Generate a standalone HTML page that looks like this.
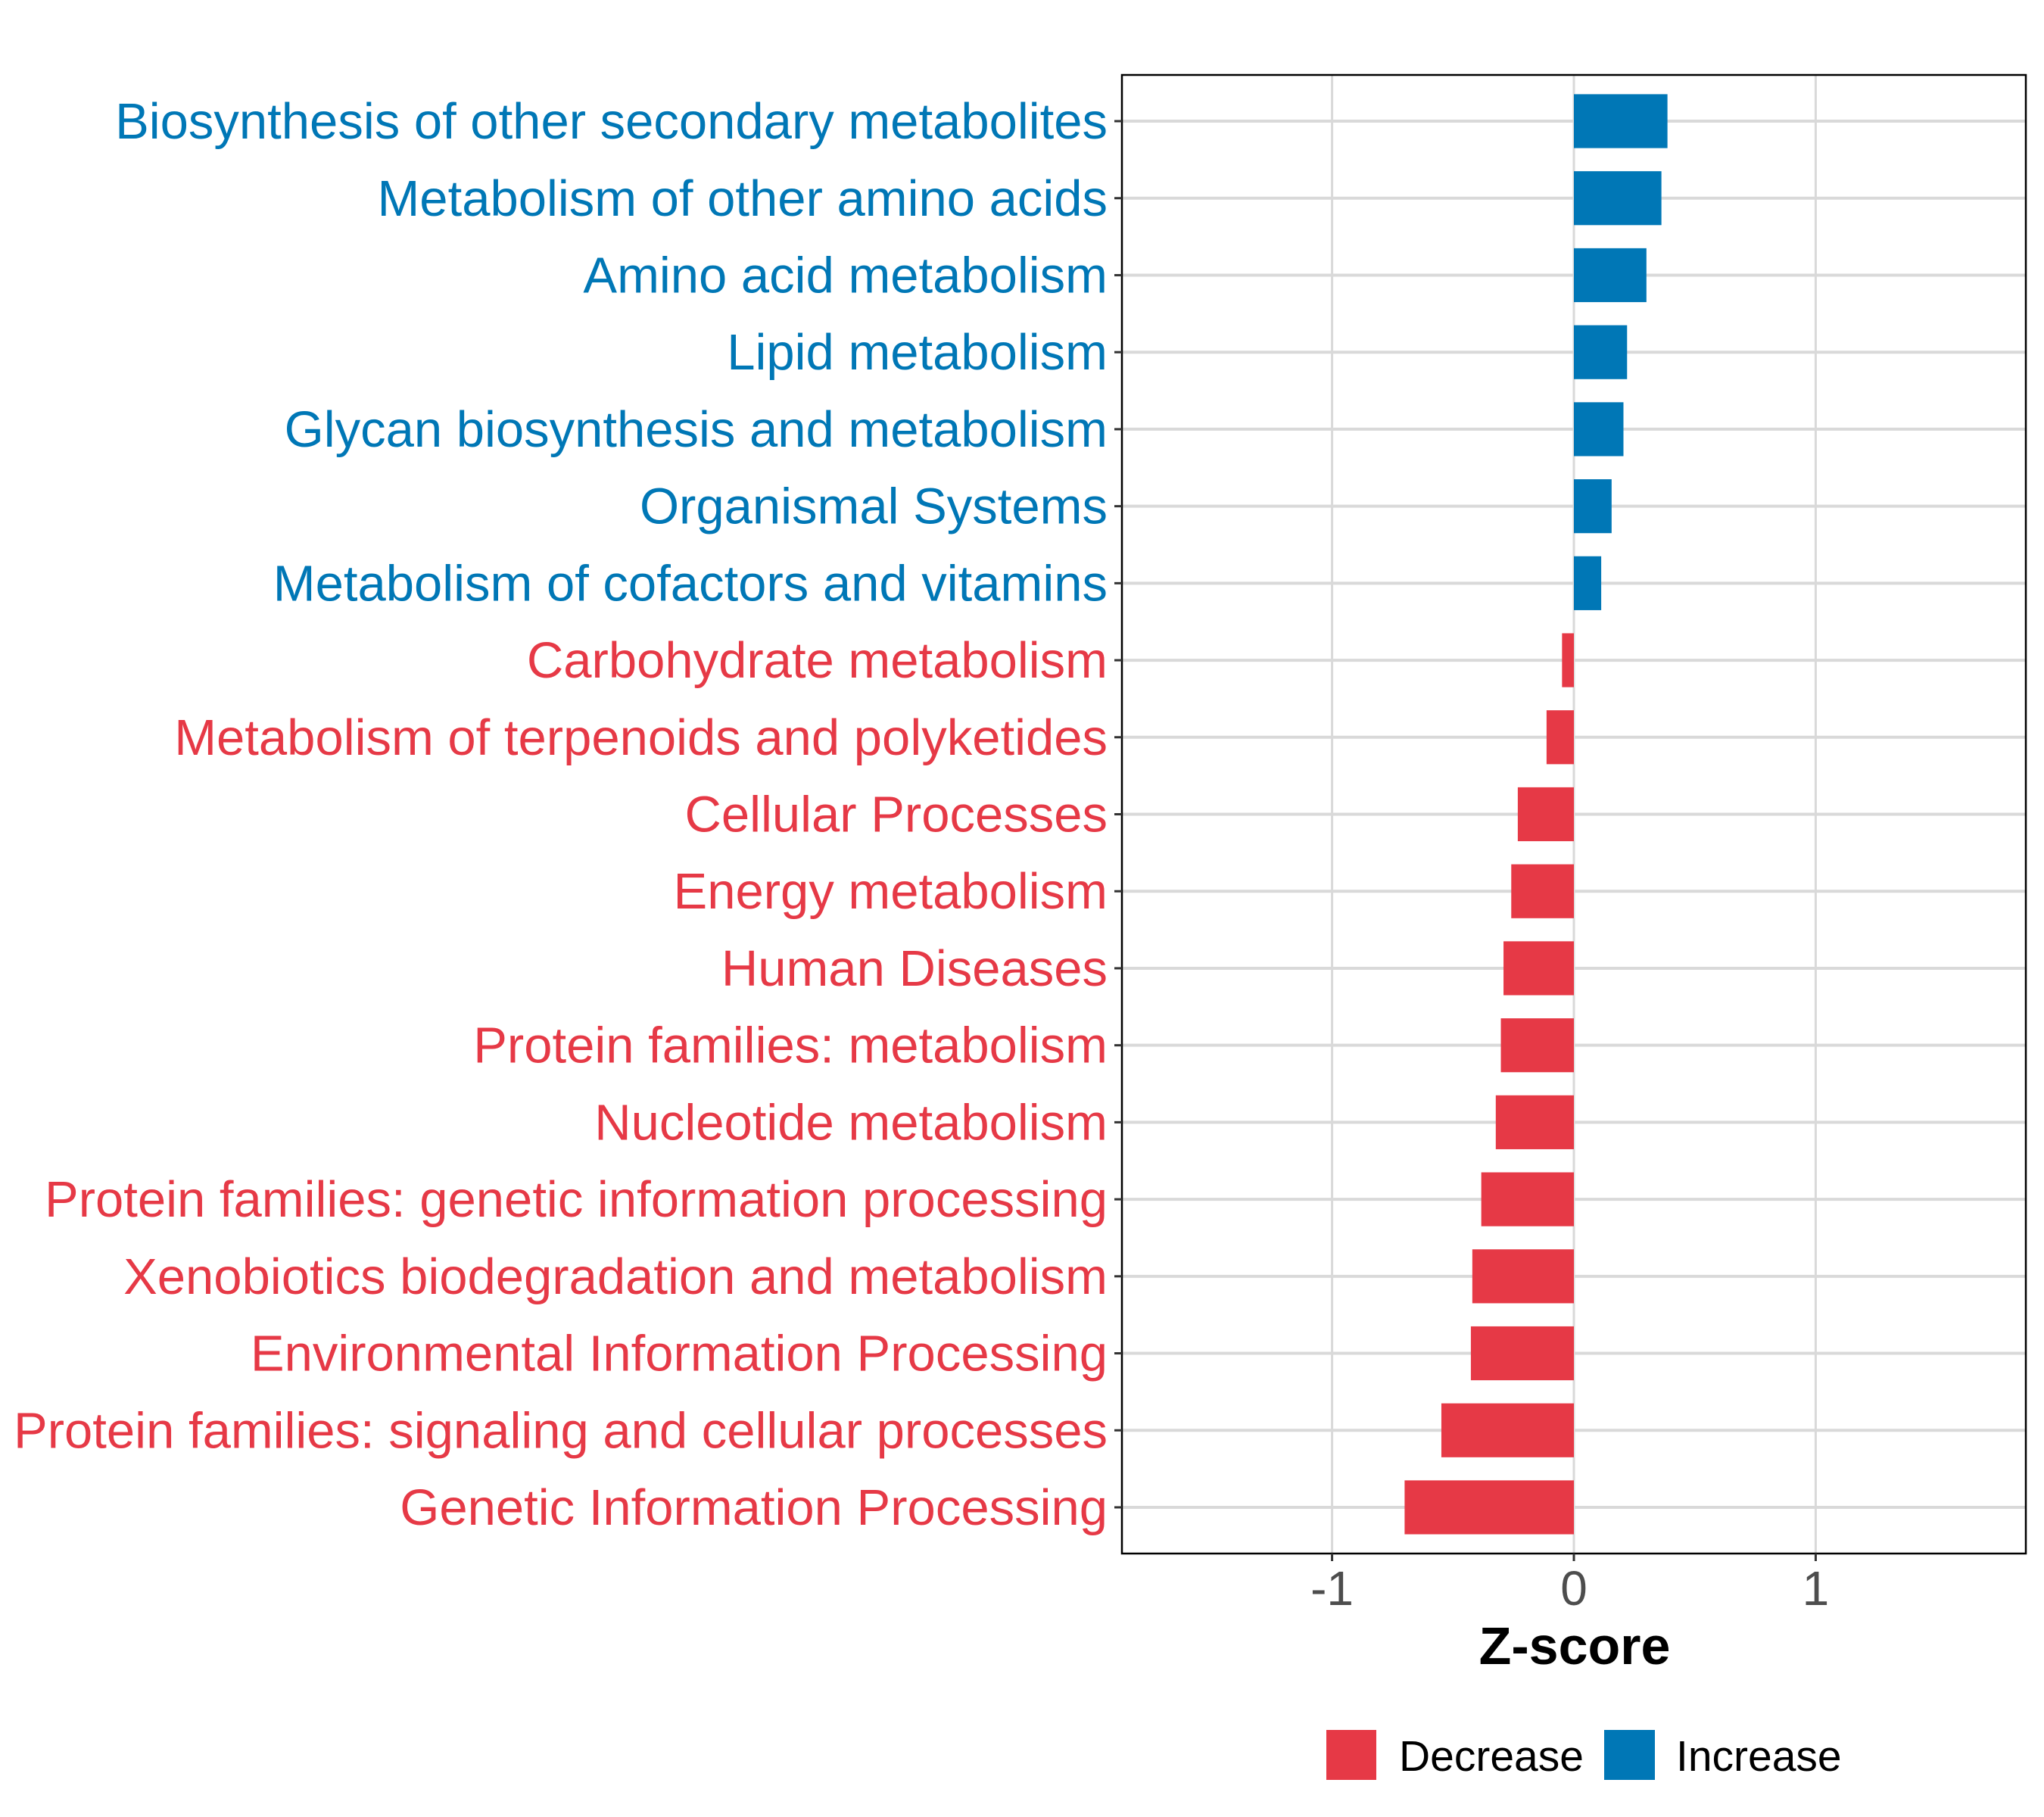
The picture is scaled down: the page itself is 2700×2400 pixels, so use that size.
<!DOCTYPE html>
<html><head><meta charset="utf-8"><style>
html,body{margin:0;padding:0;background:#fff}
svg{display:block}
text{font-family:"Liberation Sans",Arial,sans-serif}
</style></head><body>
<svg id="chart" width="2700" height="2400" viewBox="0 0 2700 2400" xmlns="http://www.w3.org/2000/svg">
<rect x="0" y="0" width="2700" height="2400" fill="#fff"/>
<g id="grid"></g>
<g id="bars"></g>
<rect x="1482" y="99" width="1194" height="1953" fill="none" stroke="#000" stroke-width="2.5"/>
<g id="ylabels"></g>
<g id="xaxis"></g>
<text x="2080" y="2198" font-size="70" font-weight="bold" text-anchor="middle" fill="#000">Z-score</text>
<g>
  <rect x="1752" y="2285" width="66" height="66" fill="#E63946"/>
  <text x="1848" y="2339" font-size="57" fill="#000">Decrease</text>
  <rect x="2119" y="2285" width="67" height="66" fill="#0077B6"/>
  <text x="2214" y="2339" font-size="57" fill="#000">Increase</text>
</g>
</svg>
<script>
const categories = [
 "Biosynthesis of other secondary metabolites",
 "Metabolism of other amino acids",
 "Amino acid metabolism",
 "Lipid metabolism",
 "Glycan biosynthesis and metabolism",
 "Organismal Systems",
 "Metabolism of cofactors and vitamins",
 "Carbohydrate metabolism",
 "Metabolism of terpenoids and polyketides",
 "Cellular Processes",
 "Energy metabolism",
 "Human Diseases",
 "Protein families: metabolism",
 "Nucleotide metabolism",
 "Protein families: genetic information processing",
 "Xenobiotics biodegradation and metabolism",
 "Environmental Information Processing",
 "Protein families: signaling and cellular processes",
 "Genetic Information Processing"
];
const zscores = [0.387,0.362,0.30,0.22,0.205,0.156,0.113,-0.049,-0.113,-0.232,-0.259,-0.291,-0.302,-0.323,-0.383,-0.42,-0.426,-0.548,-0.70];
const xTicks = [-1,0,1];
const xTickLabels = ["-1","0","1"];

const NS="http://www.w3.org/2000/svg";
const PL=1482, PR=2676, PT=99, PB=2052;
const XMIN=-1.869, XMAX=1.869;
const n=categories.length;
const step=(PB-PT)/(n-1+1.2);
function xs(v){return PL+(v-XMIN)/(XMAX-XMIN)*(PR-PL);}
function ys(i){return PT+step*(0.6+i);}
function mk(tag,attrs,parent){const e=document.createElementNS(NS,tag);for(const k in attrs)e.setAttribute(k,attrs[k]);parent.appendChild(e);return e;}
const grid=document.getElementById('grid'),bars=document.getElementById('bars'),yl=document.getElementById('ylabels'),xa=document.getElementById('xaxis');
xTicks.forEach((t,i)=>{
  const g=mk('line',{x1:xs(t),x2:xs(t),y1:PT,y2:PB,stroke:'#d9d9d9','stroke-width':3},grid);
  
  
  const tk=mk('line',{x1:xs(t),x2:xs(t),y1:PB,y2:PB+10,stroke:'#333','stroke-width':3},xa);
  
  
  const tl=mk('text',{x:xs(t),y:2120,'font-size':64,'text-anchor':'middle',fill:'#4d4d4d'},xa);
  tl.textContent=xTickLabels[i];
  
  
});
categories.forEach((c,i)=>{
  const y=ys(i);
  const g=mk('line',{x1:PL,x2:PR,y1:y,y2:y,stroke:'#d9d9d9','stroke-width':4},grid);
  
  
  const v=zscores[i];
  const col=v>=0?'#0077B6':'#E63946';
  const x0=xs(0),x1=xs(v);
  const b=mk('rect',{x:Math.min(x0,x1),y:y-step*0.35,width:Math.abs(x1-x0),height:step*0.7,fill:col},bars);
  
  
  const tk=mk('line',{x1:PL-10,x2:PL,y1:y,y2:y,stroke:'#333','stroke-width':3},yl);
  
  
  const t=mk('text',{x:1463,y:y+23,'font-size':67,'text-anchor':'end',fill:col},yl);
  t.textContent=c;
  
  
});
</script>
</body></html>
